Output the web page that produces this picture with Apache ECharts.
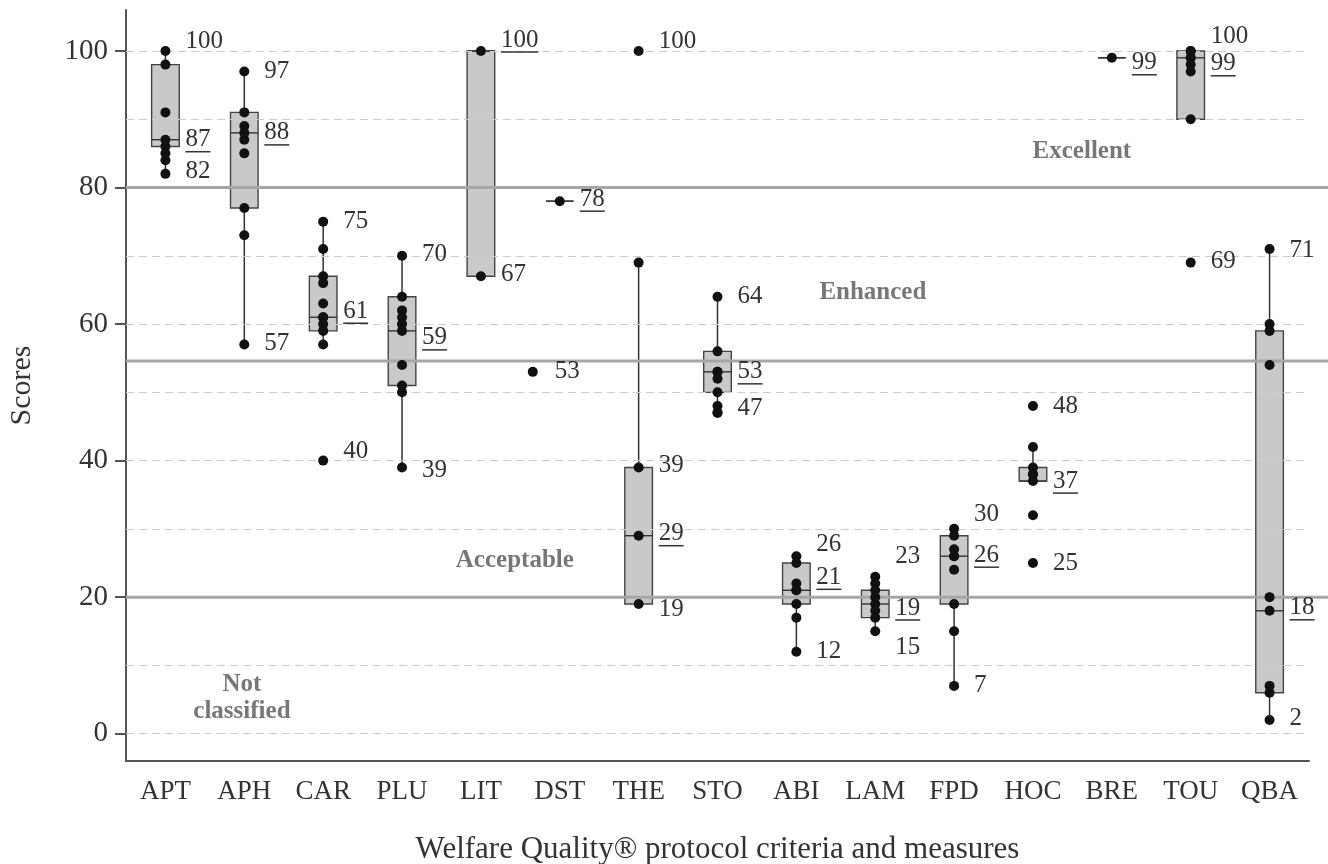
<!DOCTYPE html>
<html><head><meta charset="utf-8">
<script src="https://cdn.jsdelivr.net/npm/echarts@6/dist/echarts.min.js"></script>
<style>html,body{margin:0;padding:0;background:#fff}#c{width:1328px;height:864px}</style>
</head><body><div id="c"></div>
<script>
// ---------- data ----------
const categories = ['APT','APH','CAR','PLU','LIT','DST','THE','STO','ABI','LAM','FPD','HOC','BRE','TOU','QBA'];
// [whisker low, Q1, median, Q3, whisker high]
const boxStats = [
  [82,86,87,98,100],
  [57,77,88,91,97],
  [57,59,61,67,75],
  [39,51,59,64,70],
  [67,67,100,100,100],
  [78,78,78,78,78],
  [19,19,29,39,69],
  [47,50,53,56,64],
  [12,19,21,25,26],
  [15,17,19,21,23],
  [7,19,26,29,30],
  [37,37,37,39,42],
  [99,99,99,99,99],
  [90,90,99,100,100],
  [2,6,18,59,71]
];
const points = [
  [100,98,91,87,86,85,84,82],
  [97,91,89,88,87,85,77,73,57],
  [75,71,67,66,63,61,61,60,59,57,40],
  [70,64,62,61,60,59,54,51,50,39],
  [100,67],
  [78,53],
  [100,69,39,29,19],
  [64,56,53,53,52,50,48,47,47],
  [26,25,22,21,21,19,17,12],
  [23,22,21,20,19,18,17,15],
  [30,29,27,26,26,24,19,15,7],
  [48,42,39,38,38,37,32,25],
  [99],
  [100,100,99,99,98,97,90,69],
  [71,60,59,54,20,18,7,6,2]
];
const medianLabels = [87,88,61,59,100,78,29,53,21,19,26,37,99,99,18];
const valueLabels = [[100,82],[97,57],[75,40],[70,39],[67],[53],[100,39,19],[64,47],[26,12],[23,15],[30,7],[48,25],[],[100,69],[71,2]];
const yTicks = [0,20,40,60,80,100];
const gridValues = [0,10,20,30,40,50,60,70,80,90,100];
const thresholds = [20,54.6,80];
const zoneNames = ['Excellent','Enhanced','Acceptable','Not\nclassified'];

// ---------- style (pixel offsets of the annotations) ----------
const medianLabelDy = [0,0,-6,7,-11,-2,-2,0,-13,4,-1,0,5,6,-3];
const valueLabelDy = [[-10,-2],[0,-1],[0,-9],[-1,3],[-2],[0],[-10,-2,5],[0,-4],[-12,0],[-20,16],[-14,0],[0,0],[],[-15,-1],[1,-2]];
const dotShift = {'5_53': -27};      // DST outlier drawn left of the centre
const labelShift = {'5_53': -25};
const zonePos = [[12.12,85.2],[9.47,64.6],[4.93,25.3],[1.47,5.2]];

const FONT = '"Liberation Serif", "Times New Roman", serif';
const LBL = 25;

const boxData = boxStats.map((s,i)=>[i].concat(s));
const dotData = [];
points.forEach((arr,i)=>arr.forEach(v=>{
  const k = i+'_'+v;
  const item = {value:[i,v]};
  if (dotShift[k] !== undefined) item.symbolOffset = [dotShift[k],0];
  dotData.push(item);
}));
const labelData = [];
medianLabels.forEach((v,i)=>labelData.push([i,v,0,medianLabelDy[i],1]));
valueLabels.forEach((arr,i)=>arr.forEach((v,j)=>{
  const k=i+'_'+v;
  labelData.push([i,v,labelShift[k]||0,valueLabelDy[i][j],0]);
}));

const chart = echarts.init(document.getElementById('c'));
const gridLeft = 126;
chart.setOption({
  animation:false,
  backgroundColor:'#fff',
  textStyle:{fontFamily:FONT},
  grid:{left:gridLeft,right:19,top:10,bottom:103,containLabel:false,outerBoundsMode:'none'},
  xAxis:[{
    type:'category',data:categories,boundaryGap:true,
    name:'Welfare Quality® protocol criteria and measures',
    nameLocation:'middle',nameGap:73,
    nameTextStyle:{fontFamily:FONT,fontSize:31,color:'#333'},
    axisLine:{onZero:false,lineStyle:{color:'#555',width:2}},
    axisTick:{alignWithLabel:true,length:11,lineStyle:{color:'#555',width:2}},
    axisLabel:{fontFamily:FONT,fontSize:27,color:'#333',margin:17},
    splitLine:{show:false}
  },{
    type:'value',min:0,max:15,show:false
  }],
  yAxis:{
    type:'value',min:-4,max:106,
    name:'Scores',nameLocation:'middle',nameGap:89,nameRotate:90,
    nameTextStyle:{fontFamily:FONT,fontSize:30,color:'#333'},
    axisLine:{show:true,onZero:false,lineStyle:{color:'#555',width:2}},
    axisTick:{show:true,length:11,customValues:yTicks,lineStyle:{color:'#555',width:2}},
    axisLabel:{fontFamily:FONT,fontSize:29,color:'#333',margin:18,customValues:yTicks},
    splitLine:{show:false}
  },
  series:[
    {
      type:'line',data:[],z:0,silent:true,
      markLine:{
        silent:true,symbol:'none',label:{show:false},
        lineStyle:{color:'#cccccc',width:1.2,type:[8,5]},
        data:gridValues.map(v=>({yAxis:v}))
      }
    },
    {
      type:'custom',z:2,silent:true,data:boxData,
      encode:{x:0,y:[1,2,3,4,5]},
      renderItem:function(params,api){
        const i=api.value(0);
        const w=api.size([1,0])[0]*0.35;
        const pLo=api.coord([i,api.value(1)]), pQ1=api.coord([i,api.value(2)]),
              pMd=api.coord([i,api.value(3)]), pQ3=api.coord([i,api.value(4)]),
              pHi=api.coord([i,api.value(5)]);
        const x=pMd[0];
        const ls={stroke:'#333',lineWidth:1.5};
        return {type:'group',children:[
          {type:'line',shape:{x1:x,y1:pLo[1],x2:x,y2:pQ1[1]},style:ls},
          {type:'line',shape:{x1:x,y1:pQ3[1],x2:x,y2:pHi[1]},style:ls},
          {type:'rect',shape:{x:x-w/2,y:pQ3[1],width:w,height:pQ1[1]-pQ3[1]},
            style:{fill:'#c9c9c9',stroke:'#444',lineWidth:1.4}},
          {type:'line',shape:{x1:x-w/2,y1:pMd[1],x2:x+w/2,y2:pMd[1]},style:{stroke:'#333',lineWidth:1.4}}
        ]};
      }
    },
    {
      type:'scatter',z:10,silent:true,data:dotData,
      symbol:'circle',symbolSize:10,itemStyle:{color:'#111',opacity:1}
    },
    {
      type:'custom',z:11,silent:true,data:labelData,
      encode:{x:0,y:1},
      renderItem:function(params,api){
        const i=api.value(0), v=api.value(1), dx=api.value(2), dy=api.value(3), u=api.value(4);
        const p=api.coord([i,v]);
        const tx=p[0]+20+dx, ty=p[1]+dy;
        const txt=String(v);
        const children=[{type:'text',x:tx,y:ty,style:{text:txt,fill:'#333',
          font:LBL+'px '+FONT,align:'left',verticalAlign:'middle'}}];
        if(u){
          const len=txt.length*0.5*LBL;
          children.push({type:'line',shape:{x1:tx,y1:ty+12,x2:tx+len,y2:ty+12},
            style:{stroke:'#333',lineWidth:1.5}});
        }
        return {type:'group',children:children};
      }
    },
    {
      type:'scatter',xAxisIndex:1,z:12,silent:true,symbolSize:0,
      data:zoneNames.map((n,k)=>({name:n,value:zonePos[k]})),
      label:{show:true,position:'inside',formatter:'{b}',
        fontFamily:FONT,fontWeight:'bold',fontSize:25,color:'#555',lineHeight:27,align:'center'}
    }
  ]
});
const gfx = thresholds.map(v=>{
  const y=chart.convertToPixel({yAxisIndex:0},v);
  return {type:'line',z:5,silent:true,shape:{x1:gridLeft,y1:y,x2:1328,y2:y},
    style:{stroke:'#a6a6a6',lineWidth:3}};
});
chart.setOption({graphic:gfx});
</script>
</body></html>
